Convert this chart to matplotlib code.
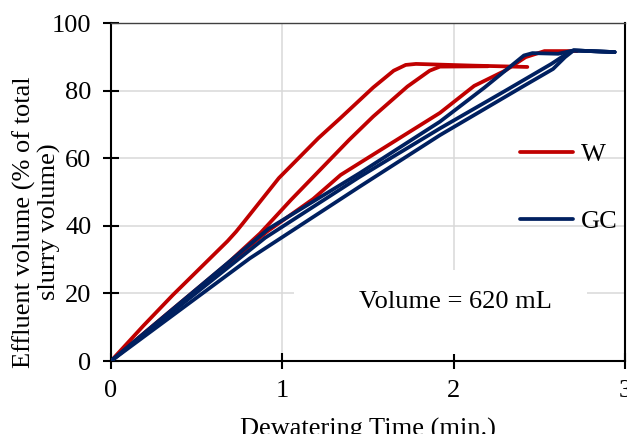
import matplotlib
matplotlib.use('Agg')
import matplotlib.pyplot as plt
from matplotlib.patches import Rectangle

plt.rcParams['font.family'] = ['Liberation Serif', 'DejaVu Serif']
plt.rcParams['font.size'] = 19

# three W runs (red) and three GC runs (blue)
w1_t = [0, 0.19, 0.36, 0.6, 0.68, 0.73, 0.77, 0.98, 1.21, 1.34, 1.53, 1.65, 1.72, 1.78, 2.11, 2.43]
w1_v = [0, 10.5, 19.5, 31.5, 35.5, 38.3, 40.8, 54.2, 66.0, 72.0, 81.0, 86.0, 87.7, 88.0, 87.5, 87.1]
w2_t = [0, 0.33, 0.68, 0.87, 1.05, 1.39, 1.53, 1.73, 1.86, 1.92, 2.2]
w2_v = [0, 14.1, 28.9, 37.8, 47.7, 65.5, 72.4, 81.3, 86.0, 87.2, 87.3]
w3_t = [0, 0.5, 0.91, 1.18, 1.34, 1.45, 1.92, 2.12, 2.30, 2.42, 2.53, 2.72]
w3_v = [0, 21.0, 38.3, 48.0, 55.1, 58.6, 73.5, 81.5, 86.0, 90.0, 91.8, 91.8]

gc1_t = [0, 0.92, 1.45, 1.92, 2.18, 2.41, 2.46, 2.61, 2.70, 2.94]
gc1_v = [0, 39.2, 55.6, 70.9, 81.0, 90.5, 91.2, 91.0, 92.0, 91.5]
gc2_t = [0, 0.9, 1.45, 1.92, 2.30, 2.57, 2.66, 2.70, 2.94]
gc2_v = [0, 36.5, 54.5, 68.9, 80.0, 88.0, 91.0, 92.0, 91.5]
gc3_t = [0, 0.81, 1.45, 1.92, 2.41, 2.58, 2.65, 2.70, 2.94]
gc3_v = [0, 30.4, 51.6, 66.9, 81.5, 86.5, 90.0, 92.0, 91.5]

red = '#C00000'
blue = '#002060'

fig = plt.figure(figsize=(6.27, 4.34), dpi=100)
ax = fig.add_axes([111/627, 1-361/434, 514/627, 337.6/434])
ax.set_axisbelow(True)
ax.grid(True, color='#d9d9d9', lw=1.1)

# white patch behind the annotation, hides the gridlines there
ax.add_patch(Rectangle((1.07, 2.2), 1.71, 24.8, facecolor='white', edgecolor='none', zorder=1))

style = dict(lw=2.7, solid_capstyle='round', solid_joinstyle='round')
ax.plot(w1_t, w1_v, color=red, zorder=2, label='W', **style)
ax.plot(w2_t, w2_v, color=red, zorder=2, **style)
ax.plot(w3_t, w3_v, color=red, zorder=2, **style)
ax.plot(gc1_t, gc1_v, color=blue, zorder=3, label='GC', **style)
ax.plot(gc2_t, gc2_v, color=blue, zorder=3, **style)
ax.plot(gc3_t, gc3_v, color=blue, zorder=3, **style)

ax.set_xlim(0, 3)
ax.set_ylim(0, 100)
ax.set_xticks([0, 1, 2, 3])
ax.set_yticks([0, 20, 40, 60, 80, 100])
ax.tick_params(direction='inout', length=12, width=1.5, pad=8)

for s in ['left', 'bottom', 'right']:
    ax.spines[s].set_linewidth(1.5)
    ax.spines[s].set_color('black')
ax.spines['top'].set_linewidth(1.0)
ax.spines['top'].set_color('#404040')

ax.text(2.008, 17.5, 'Volume = 620 mL', ha='center', va='center', zorder=4)

ax.legend(loc='center left', bbox_to_anchor=(0.796, 0.512), frameon=False,
          borderpad=0, borderaxespad=0, handlelength=2.0, handletextpad=0.3,
          labelspacing=1.65)

fig.text(368/627, -0.004, 'Dewatering Time (min.)', ha='center', va='baseline')
fig.text(37/627, 1-222/434, 'Effluent volume (% of total\nslurry volume)',
         rotation=90, ha='center', va='center', multialignment='center',
         linespacing=1.1)

fig.savefig('out.png', dpi=100)
